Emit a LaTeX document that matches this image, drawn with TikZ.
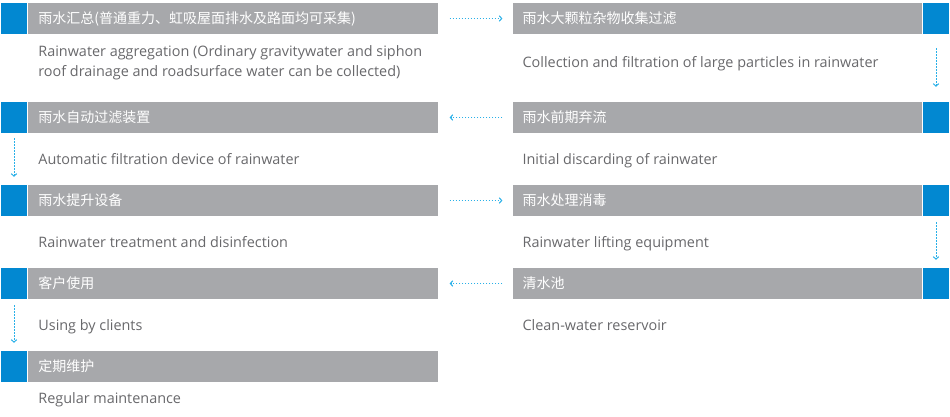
\documentclass[tikz,border=0pt]{standalone}
\usepackage{fontspec}
\setmainfont{Open Sans}
\newfontfamily\cjk{Noto Sans CJK SC}
\usetikzlibrary{arrows.meta,positioning}
\definecolor{barblue}{HTML}{0288D1}
\definecolor{bargray}{HTML}{A7A8AB}
\definecolor{txtgray}{HTML}{68686B}
\definecolor{flowblue}{HTML}{29B0E8}

\tikzset{
  tab/.style={fill=barblue,minimum width=26pt,minimum height=31pt,inner sep=0pt},
  head/.style={fill=bargray,text=white,minimum height=31pt,minimum width=410pt,
    text width=390pt,inner sep=0pt,inner xsep=10pt,align=left,
    font=\cjk\fontsize{14}{16}\selectfont},
  body/.style={text=txtgray,anchor=base west,inner sep=0pt,align=left,
    font=\fontsize{14.4}{20}\selectfont},
  flow/.style={draw=flowblue,line width=1pt,dash pattern=on 1.5pt off 1.5pt,
    -{Straight Barb[length=2.5pt,width=5.5pt]}}
}

\begin{document}
\begin{tikzpicture}[x=1pt,y=-1pt]
    \useasboundingbox (0,0) rectangle (950,416);
    % left column
    \node[tab] (t1) at (14,18.5) {};
    \node[head,right=1pt of t1] (s1) {雨水汇总(普通重力、虹吸屋面排水及路面均可采集)};
    \node[tab] (t4) at (14,117.5) {};
    \node[head,right=1pt of t4] (s4) {雨水自动过滤装置};
    \node[tab] (t5) at (14,200.5) {};
    \node[head,right=1pt of t5] (s5) {雨水提升设备};
    \node[tab] (t8) at (14,283.5) {};
    \node[head,right=1pt of t8] (s8) {客户使用};
    \node[tab] (t9) at (14,366.5) {};
    \node[head,right=1pt of t9] (s9) {定期维护};
    % right column
    \node[tab] (t2) at (936,18.5) {};
    \node[head,left=1pt of t2,minimum width=409pt,text width=389pt] (s2) {雨水大颗粒杂物收集过滤};
    \node[tab] (t3) at (936,117.5) {};
    \node[head,left=1pt of t3,minimum width=409pt,text width=389pt] (s3) {雨水前期弃流};
    \node[tab] (t6) at (936,200.5) {};
    \node[head,left=1pt of t6,minimum width=409pt,text width=389pt] (s6) {雨水处理消毒};
    \node[tab] (t7) at (936,283.5) {};
    \node[head,left=1pt of t7,minimum width=409pt,text width=389pt] (s7) {清水池};
    % descriptions
    \node[body] (b1) at ([xshift=10pt,yshift=-42pt]s1.south west) {Rainwater aggregation (Ordinary gravitywater and siphon\\roof drainage and roadsurface water can be collected)};
    \node[body] (b2) at ([xshift=10pt,yshift=-33pt]s2.south west) {Collection and filtration of large particles in rainwater};
    \node[body] (b3) at ([xshift=10pt,yshift=-31pt]s3.south west) {Initial discarding of rainwater};
    \node[body] (b4) at ([xshift=10pt,yshift=-31pt]s4.south west) {Automatic filtration device of rainwater};
    \node[body] (b5) at ([xshift=10pt,yshift=-31pt]s5.south west) {Rainwater treatment and disinfection};
    \node[body] (b6) at ([xshift=10pt,yshift=-31pt]s6.south west) {Rainwater lifting equipment};
    \node[body] (b7) at ([xshift=10pt,yshift=-31pt]s7.south west) {Clean-water reservoir};
    \node[body] (b8) at ([xshift=10pt,yshift=-31pt]s8.south west) {Using by clients};
    \node[body] (b9) at ([xshift=10pt,yshift=-21pt]s9.south west) {Regular maintenance};
    % flow
    \draw[flow,shorten <=11pt,shorten >=10pt] (s1)--(s2);
    \draw[flow,shorten <=14pt,shorten >=15pt] (t2)--(t3);
    \draw[flow,shorten <=10pt,shorten >=11pt] (s3)--(s4);
    \draw[flow,shorten <=5pt,shorten >=8pt] (t4)--(t5);
    \draw[flow,shorten <=11pt,shorten >=10pt] (s5)--(s6);
    \draw[flow,shorten <=6pt,shorten >=8pt] (t6)--(t7);
    \draw[flow,shorten <=10pt,shorten >=11pt] (s7)--(s8);
    \draw[flow,shorten <=6pt,shorten >=8pt] (t8)--(t9);
  \end{tikzpicture}
\end{document}
